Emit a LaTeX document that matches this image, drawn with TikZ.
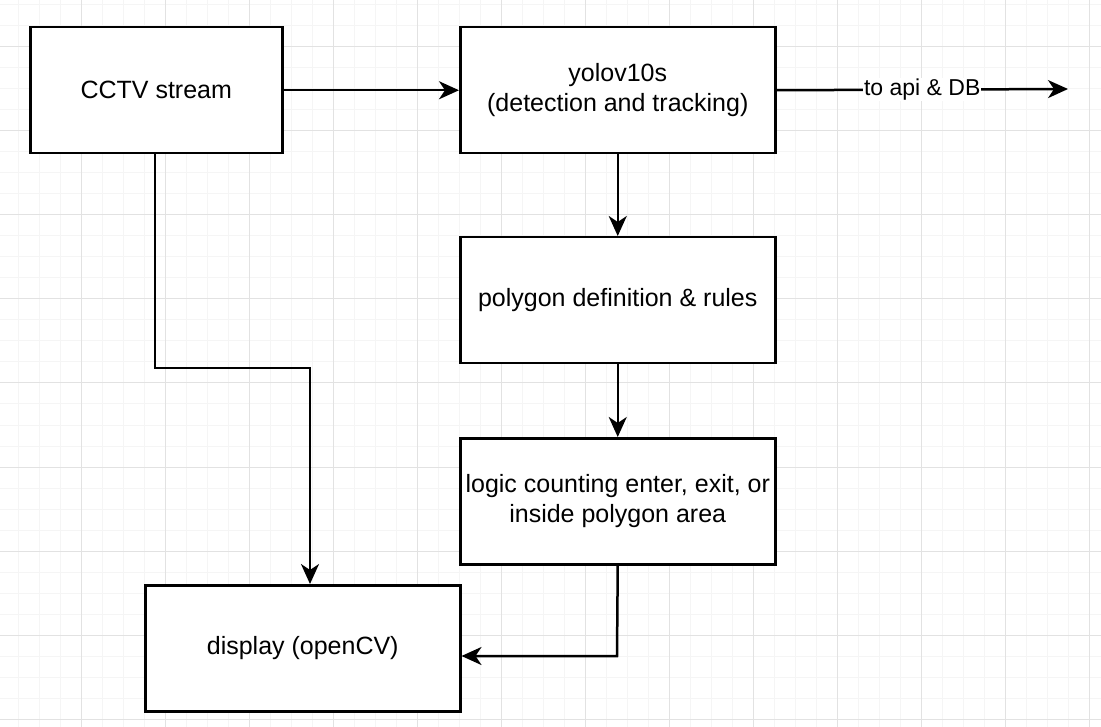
\documentclass[tikz,border=0pt]{standalone}
\usepackage{fontspec}
\setmainfont{Liberation Sans}
\usetikzlibrary{arrows.meta}
\definecolor{minorgrid}{HTML}{F5F5F5}
\definecolor{majorgrid}{HTML}{E2E2E2}
\tikzset{
  box/.style={draw=black, line width=2.5pt, fill=white, minimum width=315pt, minimum height=126pt, inner sep=0pt, align=center, font=\fontsize{25}{30.5}\selectfont, anchor=north west},
  conn/.style={line width=2.5pt, -{Stealth[length=20pt, width=18pt, inset=6pt]}},
  lbl/.style={fill=white, inner sep=1pt, font=\fontsize{23}{27}\selectfont}
}
\begin{document}
\begin{tikzpicture}[x=1pt, y=-1pt]
\useasboundingbox (0,0) rectangle (1101,727);
\fill[white] (0,0) rectangle (1101,727);
% minor grid
\foreach \i in {0,...,52} {
  \draw[minorgrid, line width=1pt] ({-2.7+21*\i},0) -- ({-2.7+21*\i},727);
}
\foreach \j in {0,...,34} {
  \draw[minorgrid, line width=1pt] (0,{5+21*\j}) -- (1101,{5+21*\j});
}
% major grid
\foreach \i in {0,...,13} {
  \draw[majorgrid, line width=1pt] ({-2.7+84*\i},0) -- ({-2.7+84*\i},727);
}
\foreach \j in {0,...,8} {
  \draw[majorgrid, line width=1pt] (0,{47+84*\j}) -- (1101,{47+84*\j});
}
% boxes
\node[box, minimum width=252pt] (cctv) at (29,26) {CCTV stream};
\node[box] (yolo) at (459,26) {yolov10s\\(detection and tracking)};
\node[box] (poly) at (459,236) {polygon definition \& rules};
\node[box] (logic) at (459,437) {logic counting enter, exit, or\\inside polygon area};
\node[box] (disp) at (144,584) {display (openCV)};
\coordinate (out) at (1068,89);
\coordinate (k1) at (155,368);
\coordinate (k2) at (310,368);
\coordinate (k3) at (617,656);
% connectors
\draw[conn] (cctv.east) -- (yolo.west);
\draw[conn] (yolo.east) -- node[lbl, pos=0.5] {to api \& DB} (out);
\draw[conn] (yolo.south) -- (poly.north);
\draw[conn] (poly.south) -- (logic.north);
\draw[conn] (cctv.south -| k1) -- (k1) -- (k2) -- (disp.north -| k2);
\draw[conn] (logic.south) -- (k3) -- (disp.east |- k3);
\end{tikzpicture}
\end{document}
